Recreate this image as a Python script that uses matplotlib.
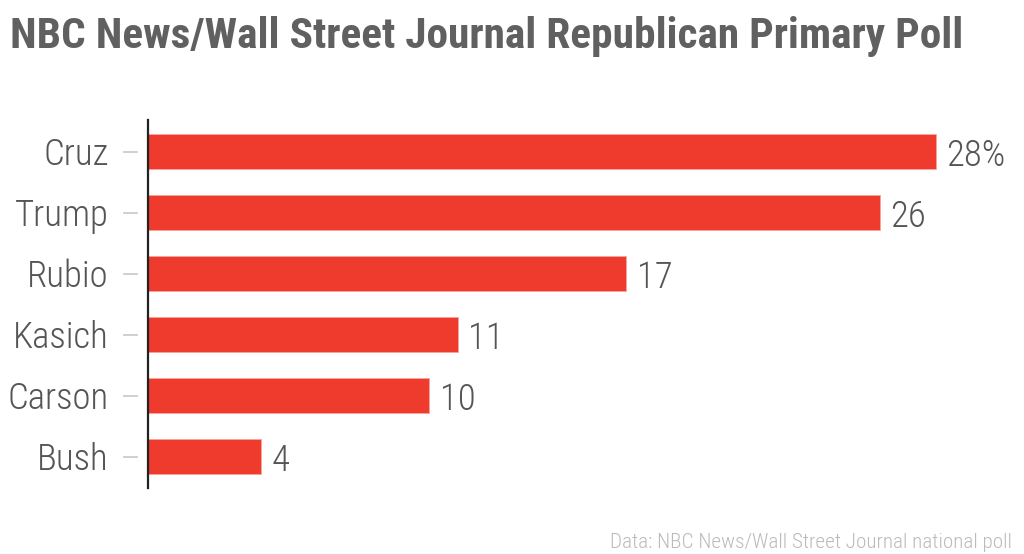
import matplotlib
matplotlib.use('Agg')
import matplotlib.pyplot as plt
import matplotlib.transforms as mtransforms

# poll data
candidates = ['Cruz', 'Trump', 'Rubio', 'Kasich', 'Carson', 'Bush']
support = [28, 26, 17, 11, 10, 4]
value_labels = ['28%', '26', '17', '11', '10', '4']

title = 'NBC News/Wall Street Journal Republican Primary Poll'
source = 'Data: NBC News/Wall Street Journal national poll'

plt.rcParams['font.family'] = ['Roboto Condensed', 'DejaVu Sans']

fig = plt.figure(figsize=(10.24, 5.54), dpi=100)
ax = fig.add_axes([148 / 1024, 1 - 488 / 554, 852 / 1024, 368 / 554])

pos = list(range(len(candidates)))
ax.barh(pos, support, height=0.575, color='#ef3b2d', edgecolor='#f6a59c', linewidth=0.6)
ax.set_xlim(0, 852 / 28.14)
ax.set_ylim(5.51, -0.52)

# value labels at the end of each bar (baseline a bit below bar centre)
for p, v, lab in zip(pos, support, value_labels):
    ax.text(v + 0.38, p + 0.23, lab, va='baseline', ha='left', fontsize=26.5, fontweight=300, color='#555555')

# category labels with small detached tick marks
trans = mtransforms.blended_transform_factory(ax.transAxes, ax.transData)
for p, name in zip(pos, candidates):
    ax.plot([-24 / 852, -11 / 852], [p, p], transform=trans, color='#cccccc', lw=1.3, clip_on=False)
    ax.text(-39 / 852, p + 0.213, name, transform=trans, ha='right', va='baseline', fontsize=26.5, fontweight=300, color='#555555')

ax.set_yticks([])
ax.set_xticks([])
for s in ['top', 'right', 'bottom']:
    ax.spines[s].set_visible(False)
ax.spines['left'].set_color('#222222')
ax.spines['left'].set_linewidth(1.6)

fig.text(10 / 1024, 1 - 48 / 554, title, ha='left', va='baseline', fontsize=31.2, fontweight='bold', color='#606060')
fig.text(1012 / 1024, 1 - 548 / 554, source, ha='right', va='baseline', fontsize=15.3, fontweight=300, color='#bbbbbb')

fig.savefig('out.png')
